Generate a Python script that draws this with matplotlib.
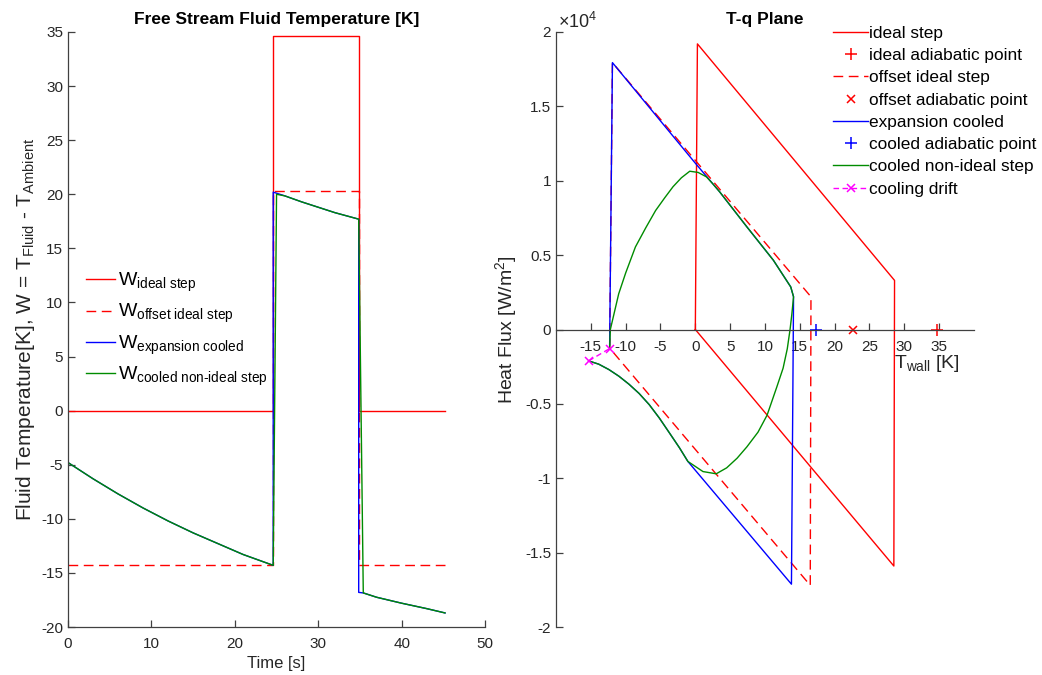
import matplotlib
matplotlib.use('Agg')
import matplotlib.pyplot as plt
from matplotlib.ticker import FuncFormatter

plt.rcParams['font.family'] = ['Liberation Sans', 'DejaVu Sans']
plt.rcParams['mathtext.fontset'] = 'custom'
plt.rcParams['mathtext.rm'] = 'Liberation Sans'
plt.rcParams['mathtext.it'] = 'Liberation Sans:italic'
plt.rcParams['mathtext.bf'] = 'Liberation Sans:bold'
plt.rcParams['axes.unicode_minus'] = False

AX_COLOR = '#404040'
RED = (1.0, 0.0, 0.0)
BLUE = (0.0, 0.0, 1.0)
GREEN = (0.0, 0.55, 0.0)
MAGENTA = (1.0, 0.0, 1.0)
DASH = (0, (7, 4))

# --- free stream temperature vs time ---
t_step = [0, 24.6, 24.6, 34.85, 34.85, 45.2]
w_ideal = [0, 0, 34.6, 34.6, 0, 0]
w_offset = [-14.3, -14.3, 20.3, 20.3, -14.3, -14.3]

t_cooled = [0, 3, 6, 9, 12, 15, 18, 21, 24.6,
            24.6, 26, 28, 30, 32, 34.85,
            34.85, 35.4, 37, 40, 43, 45.2]
w_cooled = [-4.8, -6.3, -7.7, -9.0, -10.2, -11.3, -12.3, -13.3, -14.3,
            20.2, 19.85, 19.3, 18.8, 18.3, 17.7,
            -16.8, -16.85, -17.25, -17.8, -18.3, -18.7]

t_nonideal = [0, 3, 6, 9, 12, 15, 18, 21, 24.6,
              25.0, 26, 28, 30, 32, 34.85,
              35.4, 37, 40, 43, 45.2]
w_nonideal = [-4.8, -6.3, -7.7, -9.0, -10.2, -11.3, -12.3, -13.3, -14.3,
              20.0, 19.85, 19.3, 18.8, 18.3, 17.7,
              -16.85, -17.25, -17.8, -18.3, -18.7]

# --- T-q plane ---
T_ideal = [0, 0.3, 28.6, 28.5, 0]
q_ideal = [0, 19200, 3300, -15900, 0]

T_offset = [-12.3, -11.9, 16.6, 16.5, -12.3]
q_offset = [-1250, 17940, 2200, -17200, -1250]

T_cooled = [-12.3, -11.9, 0, 3.5, 7.4, 11.2, 13.7, 14.1,
            13.8, -1.07, -2.28, -3.72, -5.17, -6.62, -8.07, -9.52,
            -10.97, -12.42, -13.87, -15.32]
q_cooled = [-1050, 17940, 11180, 9250, 6900, 4660, 2860, 2200,
            -17120, -8870, -7950, -6950, -5950, -5050, -4300, -3680,
            -3140, -2690, -2330, -2110]

T_nonideal = [-12.3, -12.25, -12.2, -11.7, -11.0, -10.0, -8.6, -7.1, -5.7,
              -4.4, -3.2, -2.0, -0.8, 0.4, 1.6, 2.5, 3.5, 7.4,
              11.2, 13.7, 14.1, 13.85, 13.6, 13.2, 12.6, 11.7, 10.3, 9.0,
              7.4, 6.0, 4.5, 3.0, 1.1, -1.07, -2.28, -3.72, -5.17, -6.62,
              -8.07, -9.52, -10.97, -12.42, -13.87, -15.32]
q_nonideal = [-1280, -600, 0, 1000, 2400, 3800, 5550, 6850, 8000,
              8850, 9600, 10200, 10640, 10560, 10260, 9800, 9250, 6900,
              4660, 2860, 2200, 1000, 0, -1300, -2600, -3860, -5760, -6900,
              -7890, -8650, -9300, -9700, -9550, -8870, -7950, -6950, -5950,
              -5050, -4300, -3680, -3140, -2690, -2330, -2110]

T_adiabatic = {'ideal': 34.7, 'offset': 22.6, 'cooled': 17.3}

T_drift = [-15.32, -12.3]
q_drift = [-2110, -1280]

fig = plt.figure(figsize=(10.42, 6.75), dpi=100)
ax1 = fig.add_axes([0.0653, 0.0711, 0.4002, 0.8815])
ax2 = fig.add_axes([0.5336, 0.0711, 0.4011, 0.8815])

lw = 1.0
ax1.plot(t_step, w_ideal, color=RED, lw=lw, label=r'W$_{\mathrm{ideal\ step}}$')
ax1.plot(t_step, w_offset, color=RED, lw=lw, ls=DASH,
         label=r'W$_{\mathrm{offset\ ideal\ step}}$')
ax1.plot(t_cooled, w_cooled, color=BLUE, lw=lw,
         label=r'W$_{\mathrm{expansion\ cooled}}$')
ax1.plot(t_nonideal, w_nonideal, color=GREEN, lw=lw,
         label=r'W$_{\text{cooled non-ideal step}}$')

ax1.set_xlim(0, 50)
ax1.set_ylim(-20, 35)
ax1.set_xticks(range(0, 51, 10))
ax1.set_yticks(range(-20, 36, 5))
ax1.set_title('Free Stream Fluid Temperature [K]', fontsize=12.5,
              fontweight='bold', pad=6)
ax1.set_xlabel('Time [s]', fontsize=12, color='#262626', labelpad=3)
ax1.set_ylabel(r'Fluid Temperature[K], W = T$_{\text{Fluid}}$ - T$_{\text{Ambient}}$',
               fontsize=15, color='#262626', labelpad=3)
ax1.legend(loc='upper left', bbox_to_anchor=(0.0, 0.628), frameon=False,
           fontsize=14, handlelength=1.5, handletextpad=0.15,
           labelspacing=0.42)

for ax in (ax1, ax2):
    ax.spines['top'].set_visible(False)
    ax.spines['right'].set_visible(False)
    for s in ('left', 'bottom'):
        ax.spines[s].set_color(AX_COLOR)
        ax.spines[s].set_linewidth(0.9)
    ax.tick_params(direction='in', length=5, width=0.9, color=AX_COLOR,
                   labelcolor='#262626', labelsize=11)
    ax.tick_params(axis='x', pad=7.5)

h = []
h += ax2.plot(T_ideal, q_ideal, color=RED, lw=lw, label='ideal step')
h += ax2.plot([T_adiabatic['ideal']], [0], ls='none', marker='+', ms=8,
              mew=1.1, color=RED, label='ideal adiabatic point')
h += ax2.plot(T_offset, q_offset, color=RED, lw=lw, ls=DASH,
              label='offset ideal step')
h += ax2.plot([T_adiabatic['offset']], [0], ls='none', marker='x', ms=6,
              mew=1.1, color=RED, label='offset adiabatic point')
h += ax2.plot(T_cooled, q_cooled, color=BLUE, lw=lw, label='expansion cooled')
h += ax2.plot([T_adiabatic['cooled']], [0], ls='none', marker='+', ms=8,
              mew=1.1, color=BLUE, label='cooled adiabatic point')
h += ax2.plot(T_nonideal, q_nonideal, color=GREEN, lw=lw,
              label='cooled non-ideal step')
h += ax2.plot(T_drift, q_drift, color=MAGENTA, lw=lw, ls=(0, (4, 2.5)),
              marker='x', ms=6, mew=1.1, label='cooling drift')

ax2.set_xlim(-20, 40)
ax2.set_ylim(-20000, 20000)
ax2.set_xticks(range(-15, 36, 5))
ax2.set_yticks([-20000, -15000, -10000, -5000, 0, 5000, 10000, 15000, 20000])
ax2.yaxis.set_major_formatter(FuncFormatter(lambda v, p: f'{v / 1e4:g}'))
ax2.spines['bottom'].set_position(('data', 0))
ax2.text(0.004, 1.0, r'$\times$10$^{4}$', transform=ax2.transAxes,
         ha='left', va='bottom', fontsize=13, color='#262626')
ax2.set_title('T-q Plane', fontsize=12.5, fontweight='bold', pad=6)
ax2.set_ylabel(r'Heat Flux [W/m$^{2}$]', fontsize=14, color='#262626')
ax2.text(33.2, -1550, r'T$_{\mathrm{wall}}$ [K]', ha='center', va='top',
         fontsize=14, color='#262626')

fig.legend(h, [x.get_label() for x in h], loc='upper left',
           bbox_to_anchor=(0.785, 0.985), frameon=False, fontsize=12.4,
           handlelength=2.0, handletextpad=0.05, labelspacing=0.42)

fig.savefig('out.png', dpi=100)
